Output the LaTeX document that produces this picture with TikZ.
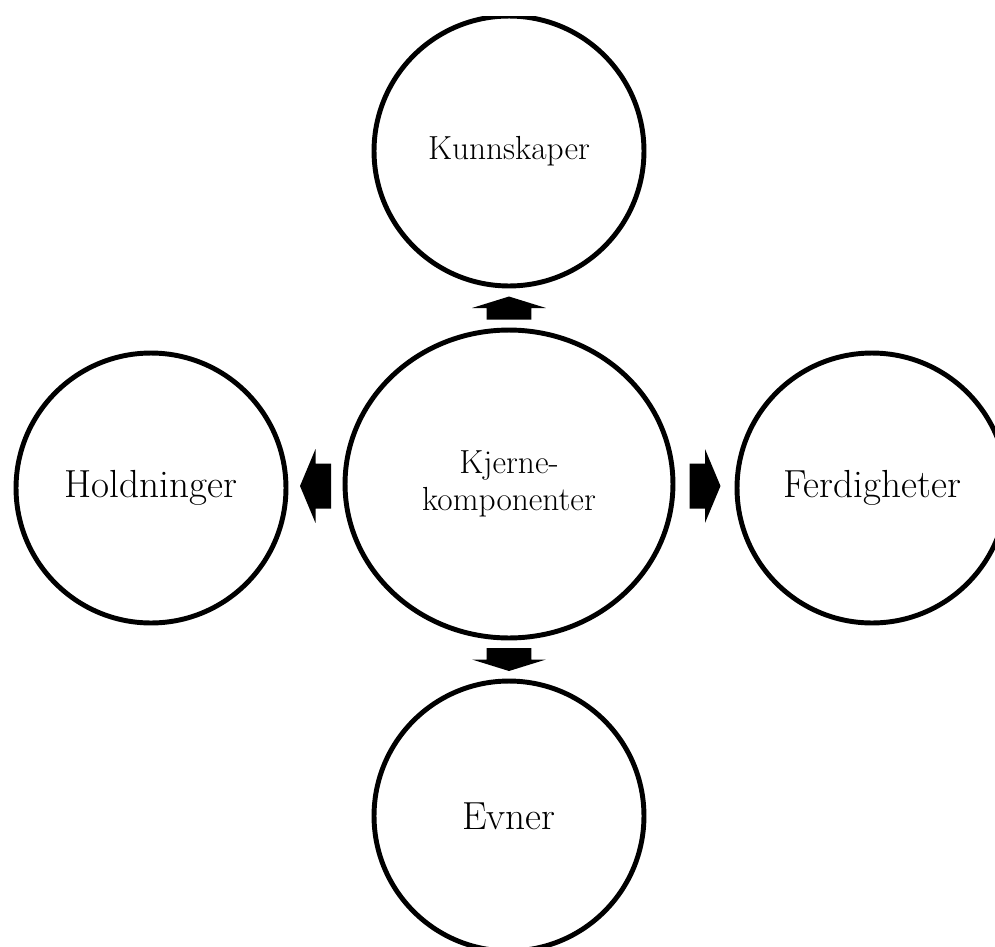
\documentclass[tikz,border=0pt]{standalone}
\usetikzlibrary{shapes.geometric,calc}
% block arrow: #1 = centre (head base), #2 = direction angle, #3 = half length
\newcommand{\blkarrow}[3]{%
  \fill[shift={(#1)}, rotate=#2]
    (-#3,-0.45cm) -- (0,-0.45cm) -- (0,-0.74cm) -- (#3,0) --
    (0,0.74cm) -- (0,0.45cm) -- (-#3,0.45cm) -- cycle;}
\begin{document}
\begin{tikzpicture}[x=0.02cm, y=-0.02cm,
  bubble/.style={circle, draw, line width=2.8pt, minimum size=5.4cm, inner sep=0pt, align=center},
  smalltext/.style={font=\fontsize{19}{21.4}\selectfont},
  bigtext/.style={font=\fontsize{22.3}{26}\selectfont}]
\useasboundingbox (0,0) rectangle (995,947);
\begin{scope}
  \clip (0,16) rectangle (995,947);
  \node[draw, ellipse, line width=2.8pt, minimum width=6.56cm, minimum height=6.16cm,
        inner sep=0pt, align=center, smalltext] (core) at (509,484) {\raisebox{-1.5pt}{Kjerne-}\\\raisebox{-1.5pt}{komponenter}};
  \node[bubble, smalltext] (kn) at (509,151) {\raisebox{-2.5pt}{Kunnskaper}};
  \node[bubble, bigtext] (hold) at (151,488) {Holdninger};
  \node[bubble, bigtext] (ferd) at (872,488) {Ferdigheter};
  \node[bubble, bigtext] (evn) at (509,816) {Evner};

  \coordinate (aup) at ($(core.north)!0.5!(kn.south)$);
  \coordinate (adown) at ($(core.south)!0.5!(evn.north)$);
  \coordinate (aleft) at ($(core.west)!0.5!(hold.east)$);
  \coordinate (aright) at ($(core.east)!0.5!(ferd.west)$);

  \blkarrow{aup}{90}{0.23cm}
  \blkarrow{adown}{-90}{0.23cm}
  \blkarrow{aleft}{180}{0.31cm}
  \blkarrow{aright}{0}{0.31cm}
\end{scope}
\end{tikzpicture}
\end{document}
